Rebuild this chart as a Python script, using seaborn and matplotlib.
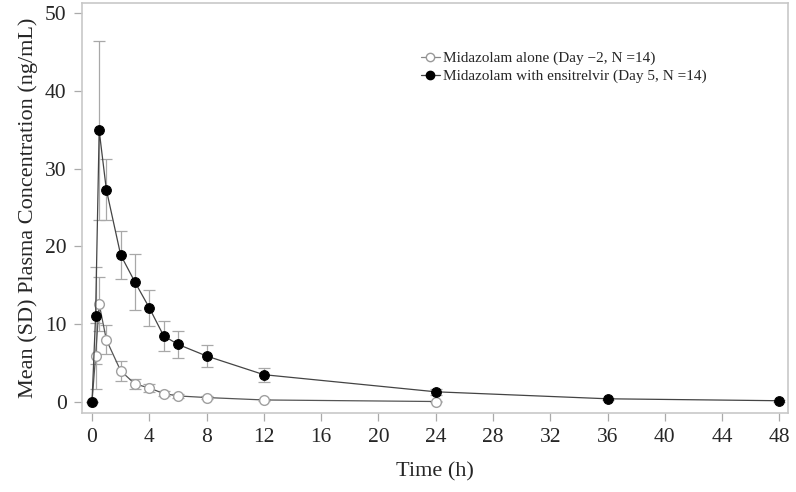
import numpy as np
import pandas as pd
import seaborn as sns
import matplotlib.pyplot as plt
from matplotlib.lines import Line2D

# mean (SD) midazolam plasma concentrations
time_alone = [0, 0.25, 0.5, 1, 2, 3, 4, 5, 6, 8, 12, 24]
mean_alone = [0, 5.9, 12.6, 8.0, 4.0, 2.3, 1.8, 1.07, 0.77, 0.56, 0.25, 0.05]
sd_alone = [0, 4.3, 3.5, 1.9, 1.3, 0.6, 0.5, 0.3, 0.25, 0.2, 0.1, 0.03]

time_ens = [0, 0.25, 0.5, 1, 2, 3, 4, 5, 6, 8, 12, 24, 36, 48]
mean_ens = [0, 11.1, 34.9, 27.3, 18.9, 15.4, 12.1, 8.5, 7.4, 5.9, 3.5, 1.3, 0.4, 0.15]
sd_ens = [0, 6.2, 11.5, 3.9, 3.1, 3.6, 2.3, 1.9, 1.7, 1.4, 0.9, 0.4, 0.15, 0.1]

labels = ["Midazolam alone (Day \u22122, N =14)",
          "Midazolam with ensitrelvir (Day 5, N =14)"]

df_alone = pd.DataFrame({"Time": time_alone, "Conc": mean_alone})
df_ens = pd.DataFrame({"Time": time_ens, "Conc": mean_ens})

sns.set_style("white")
plt.rcParams['font.family'] = ['Liberation Serif', 'DejaVu Serif']

fig = plt.figure(figsize=(7.96, 4.92), dpi=100)
ax = fig.add_axes([0.103, 0.161, 0.887, 0.833])

# error bars (grey, capped)
ax.errorbar(time_alone, mean_alone, yerr=sd_alone, fmt='none', ecolor='#a8a8a8',
            elinewidth=0.9, capsize=4, capthick=0.9, zorder=1)
ax.errorbar(time_ens, mean_ens, yerr=sd_ens, fmt='none', ecolor='#a8a8a8',
            elinewidth=0.9, capsize=4, capthick=0.9, zorder=1)

sns.lineplot(data=df_alone, x="Time", y="Conc", ax=ax, color='#555555', linewidth=0.9,
             marker='o', markersize=7, markerfacecolor='white', markeredgecolor='#a0a0a0',
             markeredgewidth=1.0, zorder=2)
sns.lineplot(data=df_ens, x="Time", y="Conc", ax=ax, color='#444444', linewidth=0.9,
             marker='o', markersize=7, markerfacecolor='black', markeredgecolor='black',
             zorder=3)

ax.set_xlim(-0.7, 48.6)
ax.set_ylim(-1.4, 51.3)
ax.set_xticks(np.arange(0, 49, 4))
ax.set_yticks(np.arange(0, 51, 10))
ax.tick_params(axis='both', direction='out', length=6, width=0.9, color='#aaaaaa',
               labelsize=15.5, pad=5, bottom=True, left=True)
for s in ax.spines.values():
    s.set_color('#c8c8c8')
    s.set_linewidth(1.2)

ax.set_xlabel("Time (h)", fontsize=16, labelpad=11)
ax.set_ylabel("Mean (SD) Plasma Concentration (ng/mL)", fontsize=16, labelpad=5)

handles = [
    Line2D([], [], color='#888888', linewidth=0.9, marker='o', markersize=6,
           markerfacecolor='white', markeredgecolor='#999999'),
    Line2D([], [], color='#444444', linewidth=0.9, marker='o', markersize=6,
           markerfacecolor='black', markeredgecolor='black'),
]
ax.legend(handles, labels, loc='upper left', bbox_to_anchor=(0.46, 0.915), frameon=False,
          fontsize=11, handlelength=1.3, handletextpad=0.2, labelspacing=0.25)

fig.savefig("out.png", dpi=100)
